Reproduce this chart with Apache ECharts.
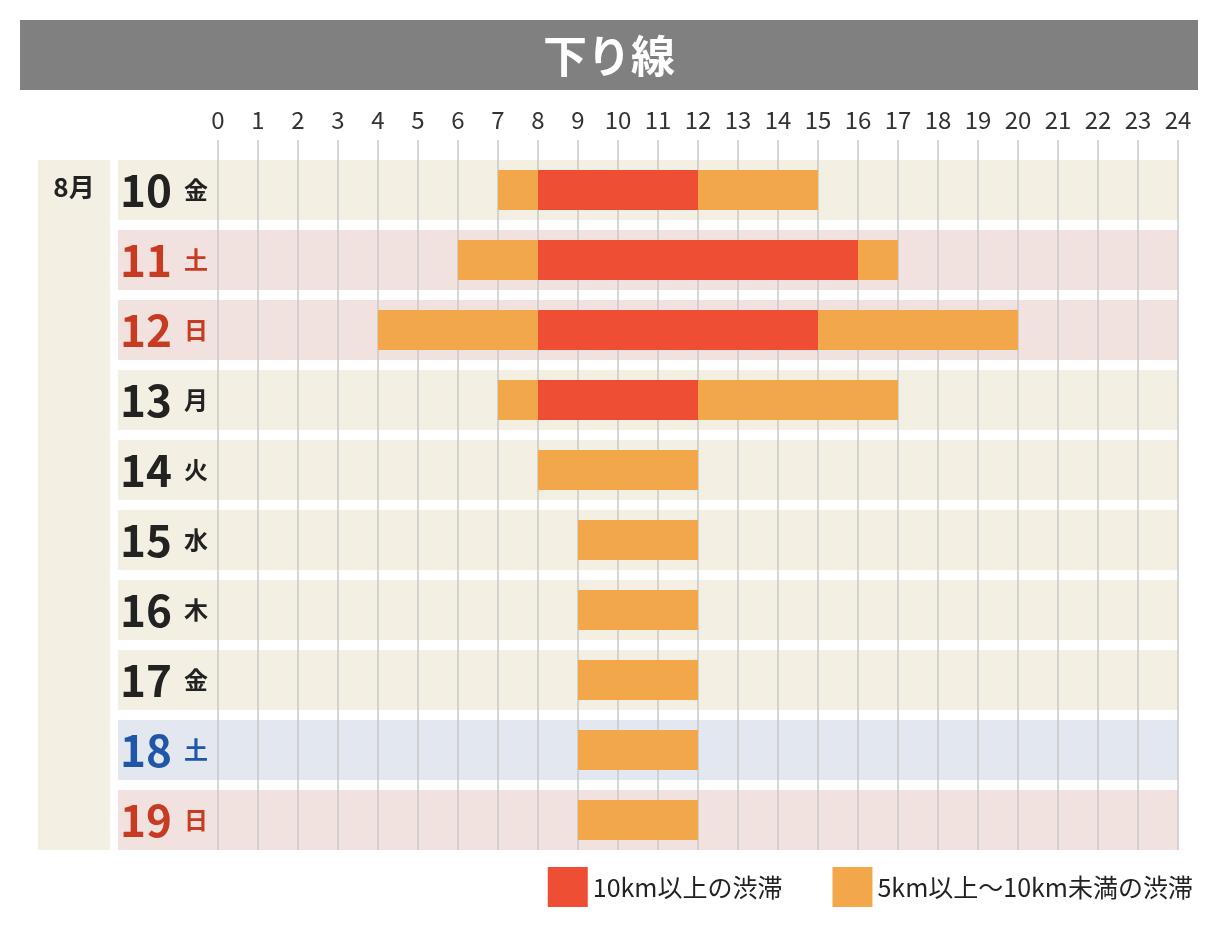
<!DOCTYPE html><html><head><meta charset="utf-8"><script src="https://cdn.jsdelivr.net/npm/echarts@6/dist/echarts.min.js"></script>
<style>html,body{margin:0;padding:0;background:#fff}#c{width:1218px;height:940px}</style></head><body><div id="c"></div><script>
const days=['10','11','12','13','14','15','16','17','18','19'];
const weekdays=['金','土','日','月','火','水','木','金','土','日'];
const dayType=['w','h','h','w','w','w','w','w','b','h'];
const hours=[0,1,2,3,4,5,6,7,8,9,10,11,12,13,14,15,16,17,18,19,20,21,22,23,24];
// [row, start, end]
const heavy=[[0,8,12],[1,8,16],[2,8,15],[3,8,12]];
const light=[[0,7,8],[0,12,15],[1,6,8],[1,16,17],[2,4,8],[2,15,20],[3,7,8],[3,12,17],[4,8,12],[5,9,12],[6,9,12],[7,9,12],[8,9,12],[9,9,12]];
const bandColor={w:'#f3efe3',h:'#f2e2df',b:'#e3e7ef'};
const txtColor={w:'#222222',h:'#c63b22',b:'#1f56a8'};
const font='"Noto Sans CJK JP","Noto Sans",sans-serif';
function barItem(p,api){const s=api.coord([api.value(1),api.value(0)]),e=api.coord([api.value(2),api.value(0)]);
return {type:'rect',shape:{x:s[0],y:s[1]-25,width:e[0]-s[0],height:40},style:{fill:api.visual('color')}};}
const chart=echarts.init(document.getElementById('c'));
chart.setOption({animation:false,
grid:{left:218,right:40,top:160,bottom:80},
xAxis:{type:'value',position:'top',min:0,max:24,interval:1,axisLine:{show:false},axisTick:{show:false},splitLine:{show:false},
 axisLabel:{margin:28,fontSize:24,color:'#333',fontFamily:font}},
yAxis:{type:'category',inverse:true,data:days,axisLine:{show:false},axisTick:{show:false},
 axisLabel:{margin:10,formatter:(v,i)=>'{n'+dayType[i]+'|'+v+'}{d'+dayType[i]+'|'+weekdays[i]+'}',
  rich:Object.fromEntries(['w','h','b'].flatMap(t=>[['n'+t,{fontSize:44,fontWeight:'bold',color:txtColor[t],fontFamily:font,padding:[0,0,10,0]}],['d'+t,{fontSize:24,fontWeight:'bold',color:txtColor[t],fontFamily:font,padding:[0,0,10,12]}]]))}},
legend:{right:20,bottom:28,itemWidth:40,itemGap:50,itemHeight:40,icon:'rect',textStyle:{fontSize:25,color:'#222',fontFamily:font},data:['10km以上の渋滞','5km以上〜10km未満の渋滞']},
graphic:[
 {type:'rect',shape:{x:20,y:20,width:1178,height:70},style:{fill:'#808080'}},
 {type:'text',x:609,y:56,style:{text:'下り線',fill:'#fff',font:'bold 44px '+font,textAlign:'center',textVerticalAlign:'middle'}},
 {type:'rect',shape:{x:38,y:160,width:72,height:690},style:{fill:'#f3efe3'},z:-10},
 {type:'text',x:74,y:187,style:{text:'8月',fill:'#222',font:'bold 26px '+font,textAlign:'center',textVerticalAlign:'middle'}}
],
series:[
 {type:'custom',z:-5,silent:true,data:days.map((d,i)=>[i]),renderItem:(p,api)=>{const c=api.coord([0,api.value(0)]);
   return {type:'rect',shape:{x:118,y:c[1]-35,width:1178-118,height:60},style:{fill:bandColor[dayType[api.value(0)]]}};}},
 {type:'custom',z:-4,silent:true,data:hours.map(h=>[h]),renderItem:(p,api)=>{const t=api.coord([api.value(0),0]),b=api.coord([api.value(0),9]);
   return {type:'line',shape:{x1:t[0],y1:140,x2:t[0],y2:b[1]+25},style:{stroke:'#c8c8c8',lineWidth:1.5}};}},
 {name:'10km以上の渋滞',type:'custom',itemStyle:{color:'#ee4e33'},data:heavy,renderItem:barItem},
 {name:'5km以上〜10km未満の渋滞',type:'custom',itemStyle:{color:'#f2a74a'},data:light,renderItem:barItem}
]});
</script></body></html>
